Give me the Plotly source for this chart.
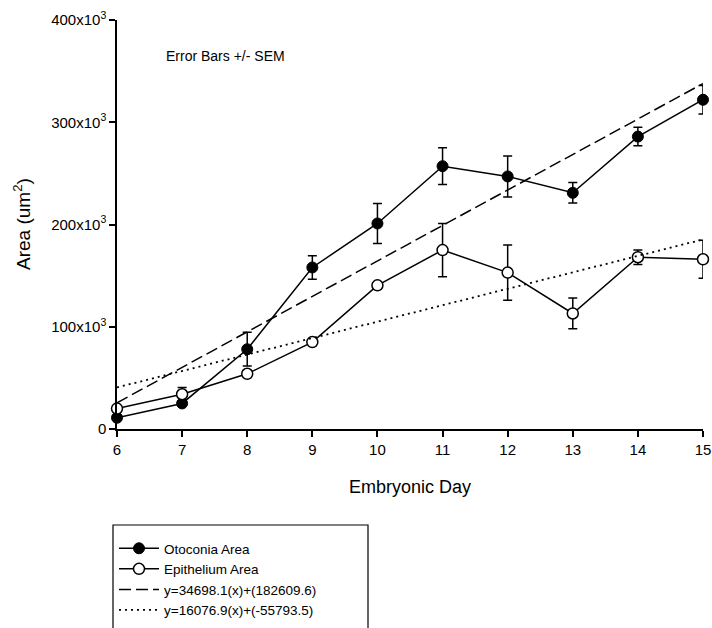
import plotly.graph_objects as go

# ---- data ----
days = [6, 7, 8, 9, 10, 11, 12, 13, 14, 15]
otoconia = [11000, 25000, 78000, 158000, 201000, 257000, 247000, 231000, 286000, 322000]
otoconia_sem = [2000, 2000, 16500, 11500, 19500, 18000, 20000, 10000, 9000, 14000]
epithelium = [20000, 34000, 54000, 85000, 140500, 175000, 153000, 113000, 168000, 166000]
epithelium_sem = [2000, 6500, 3000, 2000, 2000, 26000, 27000, 15000, 7000, 18500]

trend_x = [6, 15]
oto_trend = [25580, 337860]
epi_trend = [40670, 185360]

y_ticks = [0, 100000, 200000, 300000, 400000]
y_tick_labels = ["0", "100x10<sup>3</sup>", "200x10<sup>3</sup>", "300x10<sup>3</sup>", "400x10<sup>3</sup>"]
x_ticks = days

FONT = "Liberation Sans, Arial, sans-serif"

L, R, T, B = 117, 9, 20, 199
PW, PH = 712 - L - R, 628 - T - B


def px_x(p):
    return (p - L) / PW


def px_y(p):
    return (628 - B - p) / PH


fig = go.Figure()

fig.add_trace(go.Scatter(
    x=days, y=otoconia, name="Otoconia Area", mode="lines+markers",
    line=dict(color="black", width=1.5),
    marker=dict(symbol="circle", size=11, color="black", line=dict(color="black", width=1)),
    error_y=dict(type="data", array=otoconia_sem, visible=True, color="black", thickness=1.5, width=4.5),
    cliponaxis=False,
))
fig.add_trace(go.Scatter(
    x=days, y=epithelium, name="Epithelium Area", mode="lines+markers",
    line=dict(color="black", width=1.5),
    marker=dict(symbol="circle", size=11, color="white", line=dict(color="black", width=1.5)),
    error_y=dict(type="data", array=epithelium_sem, visible=True, color="black", thickness=1.5, width=4.5),
    cliponaxis=False,
))
fig.add_trace(go.Scatter(
    x=trend_x, y=oto_trend, name="y=34698.1(x)+(182609.6)", mode="lines",
    line=dict(color="black", width=1.5, dash="12px,5px"),
    cliponaxis=False,
))
fig.add_trace(go.Scatter(
    x=trend_x, y=epi_trend, name="y=16076.9(x)+(-55793.5)", mode="lines",
    line=dict(color="black", width=1.8, dash="2px,4px"),
    cliponaxis=False,
))

fig.update_layout(
    width=712, height=628,
    margin=dict(l=L, r=R, t=T, b=B, autoexpand=False),
    paper_bgcolor="white", plot_bgcolor="white",
    font=dict(family=FONT, color="black"),
    showlegend=True,
    legend=dict(
        x=px_x(114), y=px_y(533), xanchor="left", yanchor="top",
        font=dict(family=FONT, size=13.5, color="black"),
        bgcolor="rgba(0,0,0,0)", borderwidth=0,
        tracegroupgap=0, itemwidth=40,
    ),
    xaxis=dict(
        range=[6, 15], tickmode="array", tickvals=x_ticks,
        showline=True, linecolor="black", linewidth=1.5,
        ticks="outside", ticklen=6, tickwidth=1.5, tickcolor="black",
        showgrid=False, zeroline=False, automargin=False,
        tickfont=dict(family=FONT, size=15, color="black"),
    ),
    yaxis=dict(
        range=[0, 400000], tickmode="array", tickvals=y_ticks, ticktext=y_tick_labels,
        showline=True, linecolor="black", linewidth=1.5,
        ticks="outside", ticklen=6, tickwidth=1.5, tickcolor="black",
        showgrid=False, zeroline=False, automargin=False,
        tickfont=dict(family=FONT, size=15, color="black"),
    ),
    shapes=[dict(
        type="rect", xref="paper", yref="paper",
        x0=px_x(113), x1=px_x(368),
        y0=px_y(700), y1=px_y(525),
        line=dict(color="black", width=1.2), fillcolor="rgba(0,0,0,0)", layer="above",
    )],
    annotations=[
        dict(text="Error Bars +/- SEM", xref="paper", yref="paper",
             x=px_x(164), y=px_y(56), xanchor="left", yanchor="middle",
             showarrow=False, font=dict(family=FONT, size=14, color="black")),
        dict(text="Embryonic Day", xref="paper", yref="paper",
             x=px_x(410), y=px_y(487), xanchor="center", yanchor="middle",
             showarrow=False, font=dict(family=FONT, size=18, color="black")),
        dict(text="Area (um<sup>2</sup>)", xref="paper", yref="paper",
             x=px_x(22), y=px_y(224), xanchor="center", yanchor="middle", textangle=-90,
             showarrow=False, font=dict(family=FONT, size=19, color="black")),
    ],
)

fig.write_html(
    "out.html",
    config={"displayModeBar": False},
    post_script="document.body.style.margin='0';document.body.style.padding='0';",
)
